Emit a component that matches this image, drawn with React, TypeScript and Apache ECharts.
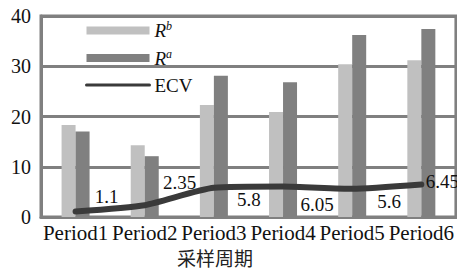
import React, { useEffect, useRef } from "react";
import * as echarts from "echarts";

const categories = ["Period1", "Period2", "Period3", "Period4", "Period5", "Period6"];
const rbValues = [18.3, 14.3, 22.3, 20.9, 30.4, 31.2];
const raValues = [17.0, 12.1, 28.1, 26.8, 36.2, 37.4];
const ecvValues = [1.1, 2.35, 5.8, 6.05, 5.6, 6.45];
const yTicks = [0, 10, 20, 30, 40];
const xAxisTitle = "采样周期";

const labelOffsets: number[][] = [
  [31, -15],
  [35, -23],
  [35, 12],
  [34, 18],
  [37, 13],
  [21, -3],
];

const FONT = "Liberation Serif";

export default function App() {
  const ref = useRef<HTMLDivElement>(null);
  useEffect(() => {
    if (!ref.current) return;
    const chart = echarts.init(ref.current, undefined, { renderer: "svg" });
    chart.setOption({
      animation: false,
      backgroundColor: "#ffffff",
      textStyle: { fontFamily: FONT, color: "#111" },
      grid: {
        left: 41,
        right: 1,
        top: 16,
        bottom: 58,
        show: true,
        borderColor: "#808080",
        borderWidth: 3,
      },
      legend: {
        orient: "vertical",
        left: 85,
        top: 20,
        padding: 0,
        itemWidth: 63,
        itemHeight: 8,
        itemGap: 7,
        textStyle: {
          fontFamily: FONT,
          fontSize: 19,
          color: "#111",
          lineHeight: 20,
          rich: {
            r: { fontFamily: FONT, fontSize: 19, fontStyle: "italic", color: "#111" },
            s: {
              fontFamily: FONT,
              fontSize: 12,
              fontStyle: "italic",
              color: "#111",
              padding: [0, 0, 9, 0],
            },
          },
        },
        formatter: (name: string) => {
          if (name === "Rb") return "{r|R}{s|b}";
          if (name === "Ra") return "{r|R}{s|a}";
          return name;
        },
        data: [
          { name: "Rb", icon: "rect" },
          { name: "Ra", icon: "rect" },
          {
            name: "ECV",
            itemStyle: { opacity: 0 },
            lineStyle: { width: 3, cap: "round", color: "#3a3a3a" },
          },
        ],
      },
      xAxis: {
        type: "category",
        data: categories,
        axisLine: { show: true, lineStyle: { color: "#808080", width: 3 } },
        axisTick: { show: false },
        axisLabel: {
          fontFamily: FONT,
          fontSize: 21,
          color: "#111",
          margin: 5,
          interval: 0,
        },
      },
      yAxis: {
        type: "value",
        min: yTicks[0],
        max: yTicks[yTicks.length - 1],
        interval: 10,
        axisLine: { show: true, lineStyle: { color: "#808080", width: 3 } },
        axisTick: { show: false },
        splitLine: { show: true, lineStyle: { color: "#808080", width: 3 } },
        axisLabel: { fontFamily: FONT, fontSize: 20, color: "#111", margin: 10 },
      },
      graphic: [
        {
          type: "text",
          x: 177,
          y: 248,
          style: {
            text: xAxisTitle,
            fontFamily: "Noto Sans CJK SC",
            fontSize: 19,
            fill: "#222",
            textAlign: "left",
            textVerticalAlign: "top",
          },
        },
      ],
      series: [
        {
          name: "Rb",
          type: "bar",
          data: rbValues,
          barWidth: 14,
          barGap: "0%",
          itemStyle: { color: "#c0c0c0" },
        },
        {
          name: "Ra",
          type: "bar",
          data: raValues,
          barWidth: 14,
          barGap: "0%",
          itemStyle: { color: "#808080" },
        },
        {
          name: "ECV",
          type: "line",
          smooth: 0.2,
          symbol: "circle",
          symbolSize: 1,
          showSymbol: true,
          itemStyle: { color: "#3a3a3a" },
          lineStyle: { color: "#3a3a3a", width: 6, cap: "round", join: "round" },
          z: 5,
          data: ecvValues.map((v, i) => ({
            value: v,
            label: {
              show: true,
              position: "inside",
              offset: labelOffsets[i],
              fontFamily: FONT,
              fontSize: 19,
              color: "#111",
            },
          })),
        },
      ],
    });
    return () => chart.dispose();
  }, []);
  return <div ref={ref} style={{ width: 457, height: 275, position: "absolute", left: 0, top: 0 }} />;
}
